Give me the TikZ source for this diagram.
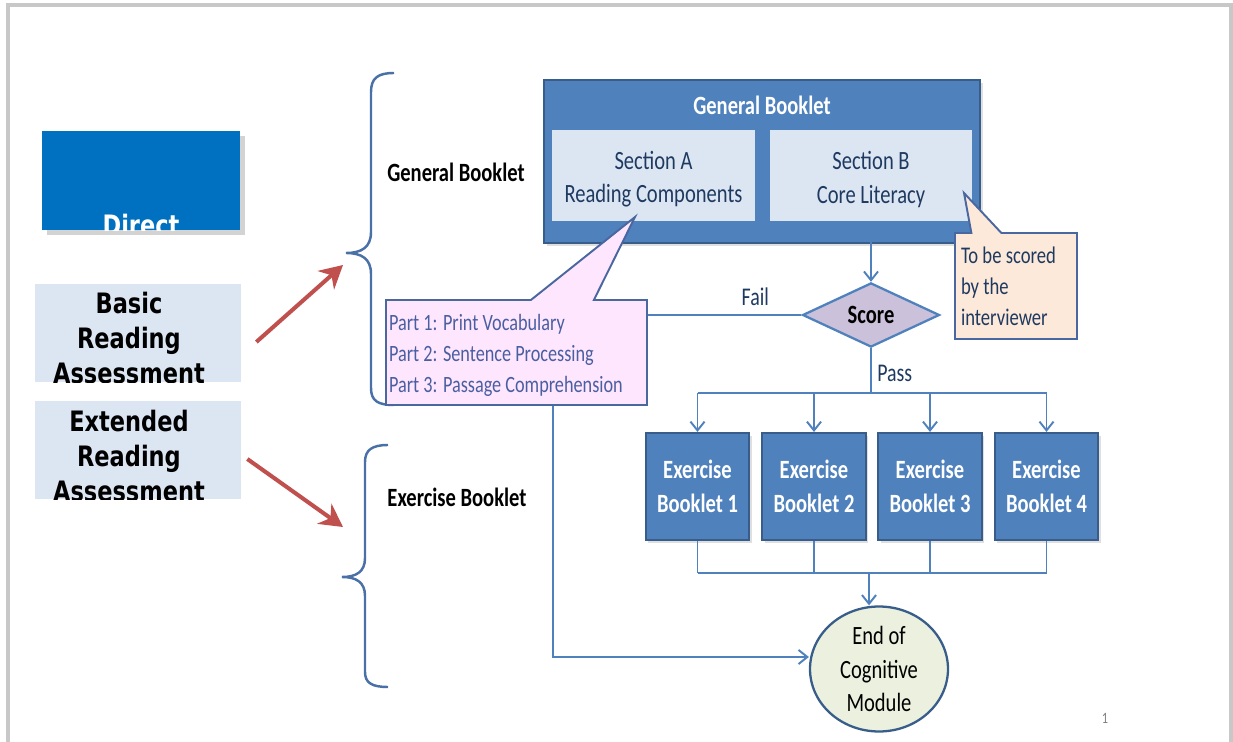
\documentclass[tikz,border=0pt]{standalone}
\usepackage{fontspec}
\setmainfont[FakeStretch=0.78]{Carlito}
\newfontfamily\wfont[FakeStretch=0.8]{DejaVu Sans}
\usetikzlibrary{arrows.meta,shapes.geometric,shapes.callouts,shadows}
\definecolor{dirblue}{HTML}{0070C0}
\definecolor{lightbx}{HTML}{DCE6F2}
\definecolor{bkblue}{HTML}{4F81BD}
\definecolor{bkedge}{HTML}{385D8A}
\definecolor{txdark}{HTML}{1F3A60}
\definecolor{partc}{HTML}{4A5FA0}
\definecolor{pinkfill}{RGB}{255,230,255}
\definecolor{peachfill}{HTML}{FDE9D9}
\definecolor{callline}{HTML}{4A67A0}
\definecolor{scorefill}{HTML}{CCC1DA}
\definecolor{endfill}{HTML}{EBF1DE}
\definecolor{redarr}{HTML}{C0504D}
\definecolor{bracec}{HTML}{4A70A8}
\definecolor{framegray}{HTML}{C8C8C8}
\tikzset{
  bkbox/.style={draw=bkedge, line width=1.2pt, fill=bkblue, text=white, inner sep=0pt, align=center,
    font=\fontsize{15}{19.3}\selectfont\bfseries, drop shadow={opacity=0.25, shadow xshift=1.5pt, shadow yshift=-1.5pt}},
  secbox/.style={fill=lightbx, text=txdark, inner sep=0pt, align=center, font=\fontsize{15}{19.3}\selectfont},
  leftbox/.style={fill=lightbx, inner sep=0pt, minimum width=4.12cm, minimum height=1.96cm},
  lefttext/.style={font=\wfont\bfseries\fontsize{16}{19.8}\selectfont, align=center, inner sep=0pt},
  callbox/.style={rectangle callout, draw=callline, line width=1.1pt, align=flush left, inner ysep=0pt},
  arr/.style={-{Straight Barb[length=5pt,width=8pt]}, bkblue, line width=1.1pt},
  ln/.style={bkblue, line width=1.1pt},
  redarrow/.style={-{Stealth[length=13pt,width=14pt]}, redarr, line width=2.3pt},
  brace/.style={bracec, line width=1.4pt},
  lbl/.style={font=\fontsize{15}{17}\selectfont\bfseries, inner sep=0pt},
  lbltx/.style={font=\fontsize{14.5}{17}\selectfont, text=txdark, inner sep=0pt},
}
\begin{document}
\begin{tikzpicture}[x=0.02cm, y=-0.02cm]
  \useasboundingbox (0,0) rectangle (1233,742);
  % slide frame
  \draw[framegray, line width=2pt] (8,742) -- (8,5) -- (1231,5) -- (1231,742);

  % left column
  \node[fill=dirblue, inner sep=0pt, minimum width=3.96cm, minimum height=1.98cm,
    drop shadow={opacity=0.35, shadow xshift=3pt, shadow yshift=-3pt}] (direct) at (141,180.5) {};
  \begin{scope}
    \clip (direct.south west) rectangle (direct.north east);
    \node[lefttext, text=white] (directtx) at (141,225) {Direct};
  \end{scope}
  \node[leftbox] (basic) at (138,333) {};
  \begin{scope}
    \clip (basic.south west) rectangle (basic.north east);
    \node[lefttext] (basictx) at (129,338) {Basic\\Reading\\Assessment};
  \end{scope}
  \node[leftbox] (extended) at (138,450) {};
  \begin{scope}
    \clip (extended.south west) rectangle (extended.north east);
    \node[lefttext] (extendedtx) at (129,456) {Extended\\Reading\\Assessment};
  \end{scope}

  % braces
  \draw[brace] (394,73) .. controls (378,73) and (371,78) .. (371,92) -- (371,232)
    .. controls (371,247) and (362,253) .. (346,253) .. controls (362,253) and (371,259) .. (371,274)
    -- (371,388) .. controls (371,401) and (378,405) .. (394,405);
  \draw[brace] (388,445) .. controls (372,445) and (365,450) .. (365,462) -- (365,558)
    .. controls (365,572) and (356,577) .. (342,577) .. controls (356,577) and (365,582) .. (365,596)
    -- (365,672) .. controls (365,683) and (372,687) .. (388,687);
  \coordinate (gtip) at (343,265);
  \coordinate (etip) at (343,527);
  \draw[redarrow] ([shift={(15,9)}]basic.east) -- (gtip);
  \draw[redarrow] ([shift={(6,9)}]extended.east) -- (etip);

  \node[lbl] (gblabel) at (456,172) {General Booklet};
  \node[lbl] (eblabel) at (457,497) {Exercise Booklet};

  % general booklet
  \node[bkbox, minimum width=8.72cm, minimum height=3.26cm] (gbook) at (762,161.5) {};
  \node[font=\fontsize{15}{17}\selectfont\bfseries, text=white, inner sep=0pt] (gbtitle) at (762,105) {General Booklet};
  \node[secbox, minimum width=4.06cm, minimum height=1.82cm] (seca) at (653.5,175.5) {\rule{0pt}{14.5pt}Section A\\Reading Components};
  \node[secbox, minimum width=4.04cm, minimum height=1.82cm] (secb) at (871,175.5) {\rule{0pt}{14.5pt}Section B\\Core Literacy};

  % callouts
  \node[callbox, fill=pinkfill, text=partc, text width=5.1cm, inner xsep=0.06cm, minimum height=2.1cm,
    callout absolute pointer={(635,217)}, callout pointer width=1.26cm,
    font=\fontsize{13.3}{17.6}\selectfont] (parts) at (516.5,352.5)
    {\rule{0pt}{13pt}Part 1: Print Vocabulary\\Part 2: Sentence Processing\\Part 3: Passage Comprehension};
  \node[callbox, fill=peachfill, text=txdark, text width=2.2cm, inner xsep=0.12cm, minimum height=2.12cm,
    callout absolute pointer={(964,193)}, callout pointer width=0.6cm,
    font=\fontsize{13.6}{17.6}\selectfont] (scored) at (1016,286)
    {To be scored\\by the\\interviewer};

  % score and exercise booklets
  \node[diamond, draw=bkblue, line width=1.3pt, fill=scorefill, minimum width=2.74cm, minimum height=1.28cm,
    inner sep=0pt, font=\fontsize{15}{17}\selectfont\bfseries] (score) at (871,315) {Score};
  \foreach \i/\x in {1/697.5,2/814,3/930,4/1046.5}
    \node[bkbox, minimum width=2.07cm, minimum height=2.14cm] (ex\i) at (\x,486.5) {Exercise\\Booklet \i};
  \node[ellipse, draw=bkedge, line width=1.3pt, fill=endfill, minimum width=2.76cm, minimum height=2.5cm,
    inner sep=0pt, align=center, font=\fontsize{15}{19.3}\selectfont] (endm) at (879,669) {End of\\Cognitive\\Module};

  % connectors
  \draw[arr] (secb.south) -- (score.north);
  \draw[ln] (score.west) -- (score.west -| parts.east) node[pos=0.3, above=5pt, lbltx] {Fail};
  \coordinate (split) at (871,393);
  \draw[ln] (score.south) -- (split) node[pos=0.57, right=3pt, lbltx] {Pass};
  \draw[ln] (ex1 |- split) -- (ex4 |- split);
  \foreach \i in {1,...,4}
    \draw[arr] (ex\i |- split) -- (ex\i.north);
  \coordinate (merge) at (869,573);
  \foreach \i in {1,...,4}
    \draw[ln] (ex\i.south) -- (ex\i |- merge);
  \draw[ln] (ex1 |- merge) -- (ex4 |- merge);
  \draw[arr] (merge) -- (merge |- endm.north);
  \coordinate (failx) at (553,657);
  \draw[arr] (failx |- parts.south) -- (failx) -- (endm.west |- failx);

  \node[font=\fontsize{9}{9}\selectfont, text=gray, inner sep=0pt] (pgnum) at (1105,718) {1};
\end{tikzpicture}
\end{document}
